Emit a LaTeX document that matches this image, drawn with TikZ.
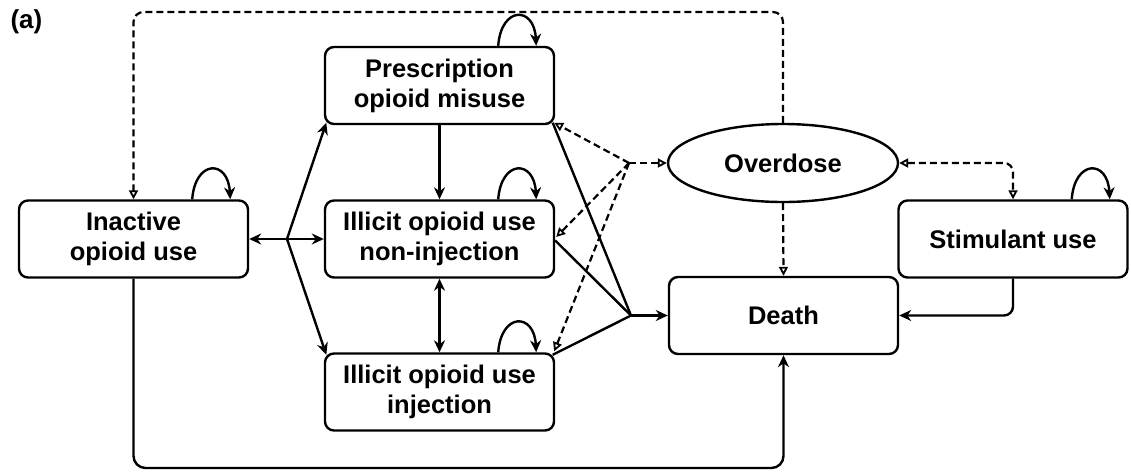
\documentclass[tikz,border=0pt]{standalone}
\usepackage{fontspec}
\setmainfont{Liberation Sans}
\usetikzlibrary{arrows.meta,calc,shapes.geometric}
\begin{document}
\begin{tikzpicture}[x=1pt,y=-1pt,
  every node/.style={font=\fontsize{25.5}{30}\selectfont\bfseries},
  box/.style={draw, rounded corners=9pt, line width=2.4pt, minimum width=229pt, minimum height=77pt, align=center, inner sep=0pt},
  oval/.style={draw, ellipse, line width=2.4pt, minimum width=230pt, minimum height=78pt, inner sep=0pt},
  ln/.style={line width=2.4pt},
  dsh/.style={line width=2.2pt, dash pattern=on 7pt off 4pt},
  >={Stealth[length=12pt,width=11pt]},
  otip/.tip={Triangle[open,length=9pt,width=9pt,line width=1.8pt]}
]
\useasboundingbox (0,0) rectangle (1131,471);

\node[anchor=west, font=\fontsize{26}{30}\selectfont\bfseries] (lbl) at (7,22) {(a)};

\node[box] (ina) at (133.5,239) {Inactive\\opioid use};
\node[box] (pm) at (439.5,85.5) {Prescription\\opioid misuse};
\node[box] (nij) at (439.5,239) {Illicit opioid use\\non-injection};
\node[box] (inj) at (439.5,392) {Illicit opioid use\\injection};
\node[oval] (od) at (783,163) {Overdose};
\node[box] (stim) at (1013,239) {Stimulant use};
\node[box] (death) at (783.5,315.5) {Death};

\coordinate (h1) at (287,239);
\coordinate (h2) at (631,315.5);
\coordinate (h3) at (629,163);
\coordinate (top) at (0,12);
\coordinate (bot) at (0,468);

% self loops
\foreach \n in {ina,pm,nij,inj,stim}
  \draw[ln,->] ($(\n.north east)+(-57,0)$) .. controls +(3,-40) and +(-2,-40) .. ($(\n.north east)+(-19,0)$);

% inactive hub
\draw[ln,<->] (ina.east) -- (nij.west);
\draw[ln,->] (h1) -- ($(pm.south west)+(2.5,-2.5)$);
\draw[ln,->] (h1) -- ($(inj.north west)+(2.5,2.5)$);

% between opioid states
\draw[ln,->] (pm.south) -- (nij.north);
\draw[ln,<->] (nij.south) -- (inj.north);

% death hub
\draw[ln] ($(pm.south east)+(-2.5,-2.5)$) -- (h2);
\draw[ln] ($(nij.east)+(0,1.5)$) -- (h2);
\draw[ln] ($(inj.north east)+(-2.5,2.5)$) -- (h2);
\draw[ln,->] (h2) -- (death.west);

% overdose hub
\draw[dsh,-otip] (h3) -- (od.west);
\draw[dsh,-otip] (h3) -- ($(pm.south east)+(-1,-2.5)$);
\draw[dsh,-otip] (h3) -- ($(nij.east)+(1,-2)$);
\draw[dsh,-otip] (h3) -- ($(inj.north east)+(-1,-1)$);

% overdose links
\draw[dsh,-otip,rounded corners=10pt] (od.north) -- (od.north |- top) -| (ina.north);
\draw[dsh,-otip] (od.south) -- (death.north);
\draw[dsh,otip-otip,rounded corners=9pt] (od.east) -| (stim.north);

% to death
\draw[ln,->,rounded corners=9pt] (stim.south) |- (death.east);
\draw[ln,->,rounded corners=12pt] (ina.south) -- (ina.south |- bot) -| (death.south);
\end{tikzpicture}
\end{document}
